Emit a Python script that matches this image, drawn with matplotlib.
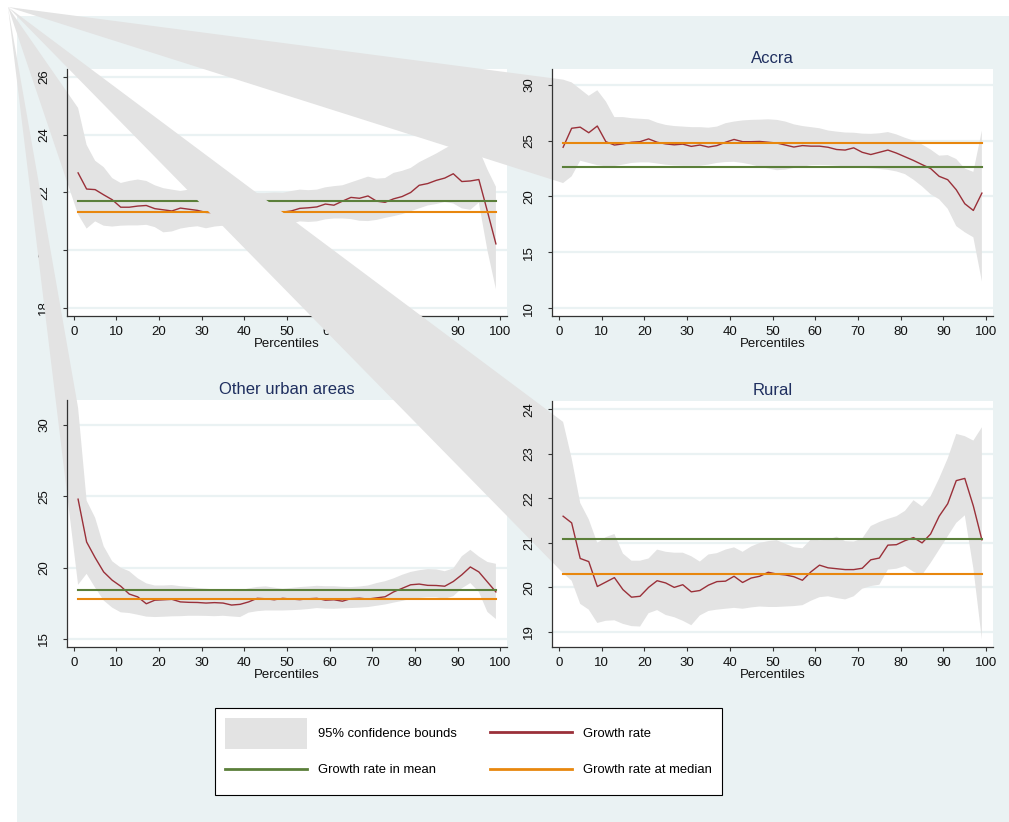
import numpy as np
import matplotlib
matplotlib.use('Agg')
import matplotlib.pyplot as plt
from matplotlib.patches import Polygon, Rectangle, Patch
from matplotlib.lines import Line2D
from matplotlib.legend_handler import HandlerLine2D

plt.rcParams['font.family'] = ['Liberation Sans', 'DejaVu Sans']

# percentiles 1, 3, ..., 99
pct = np.arange(1, 100, 2)

titles = ['', 'Accra', 'Other urban areas', 'Rural']

# growth incidence curves
ghana_growth = [22.68, 22.12, 22.10, 21.92, 21.75, 21.49, 21.49, 21.53, 21.55, 21.44,
                21.40, 21.36, 21.46, 21.42, 21.38, 21.31, 21.30, 21.30, 21.28, 21.30,
                21.31, 21.30, 21.31, 21.33, 21.32, 21.36, 21.45, 21.47, 21.50, 21.60,
                21.56, 21.70, 21.83, 21.80, 21.88, 21.70, 21.66, 21.78, 21.86, 22.00,
                22.25, 22.31, 22.42, 22.50, 22.65, 22.38, 22.40, 22.45, 21.35, 20.22]
ghana_upper = [24.93, 23.65, 23.10, 22.88, 22.50, 22.33, 22.40, 22.45, 22.40, 22.25,
               22.15, 22.10, 22.05, 22.10, 22.10, 22.25, 22.20, 22.10, 22.05, 22.00,
               21.98, 21.98, 21.98, 22.00, 21.99, 22.05, 22.10, 22.08, 22.10, 22.18,
               22.22, 22.25, 22.35, 22.45, 22.55, 22.48, 22.50, 22.68, 22.75, 22.85,
               23.05, 23.20, 23.35, 23.52, 23.68, 23.70, 23.65, 23.50, 22.80, 22.20]
ghana_lower = [21.24, 20.75, 21.00, 20.85, 20.82, 20.85, 20.86, 20.86, 20.88, 20.80,
               20.62, 20.65, 20.75, 20.80, 20.83, 20.76, 20.82, 20.85, 20.82, 20.80,
               20.80, 20.80, 20.82, 20.84, 20.86, 20.92, 21.00, 20.98, 21.00, 21.07,
               21.10, 21.10, 21.08, 21.02, 21.01, 21.05, 21.12, 21.18, 21.25, 21.35,
               21.45, 21.55, 21.60, 21.67, 21.62, 21.45, 21.40, 21.65, 20.00, 18.65]

accra_growth = [24.40, 26.10, 26.20, 25.70, 26.30, 24.90, 24.60, 24.70, 24.85, 24.90,
                25.15, 24.85, 24.70, 24.62, 24.68, 24.48, 24.60, 24.42, 24.55, 24.85,
                25.10, 24.90, 24.90, 24.92, 24.85, 24.78, 24.60, 24.42, 24.55, 24.50,
                24.50, 24.40, 24.20, 24.15, 24.35, 23.95, 23.75, 23.95, 24.15, 23.88,
                23.55, 23.22, 22.85, 22.50, 21.80, 21.50, 20.60, 19.35, 18.75, 20.30]
accra_upper = [30.45, 30.20, 29.60, 29.00, 29.50, 28.50, 27.10, 27.10, 27.00, 26.95,
               26.90, 26.60, 26.40, 26.30, 26.25, 26.20, 26.20, 26.15, 26.25, 26.55,
               26.70, 26.80, 26.85, 26.87, 26.90, 26.85, 26.70, 26.45, 26.30, 26.20,
               26.10, 25.90, 25.80, 25.72, 25.70, 25.62, 25.60, 25.65, 25.76, 25.55,
               25.25, 25.00, 24.65, 24.20, 23.65, 23.70, 23.35, 22.50, 22.20, 25.90]
accra_lower = [21.20, 21.80, 23.20, 23.00, 22.80, 22.70, 22.72, 22.85, 23.00, 23.05,
               23.05, 22.95, 22.84, 22.78, 22.75, 22.75, 22.75, 22.85, 23.00, 23.08,
               23.10, 23.00, 22.85, 22.65, 22.50, 22.35, 22.40, 22.55, 22.65, 22.80,
               22.82, 22.80, 22.75, 22.70, 22.62, 22.57, 22.52, 22.46, 22.38, 22.24,
               22.00, 21.50, 20.90, 20.20, 19.75, 18.90, 17.35, 16.80, 16.35, 12.40]

urban_growth = [24.80, 21.80, 20.70, 19.70, 19.12, 18.70, 18.15, 17.95, 17.47, 17.72,
                17.75, 17.78, 17.60, 17.57, 17.56, 17.52, 17.55, 17.52, 17.38, 17.43,
                17.60, 17.85, 17.82, 17.75, 17.85, 17.80, 17.76, 17.82, 17.85, 17.72,
                17.75, 17.65, 17.83, 17.86, 17.80, 17.88, 17.96, 18.30, 18.55, 18.80,
                18.85, 18.76, 18.75, 18.70, 19.03, 19.50, 20.05, 19.70, 19.00, 18.30]
urban_upper = [31.20, 24.70, 23.50, 21.50, 20.45, 20.00, 19.75, 19.25, 18.90, 18.75,
               18.75, 18.78, 18.70, 18.65, 18.58, 18.53, 18.47, 18.40, 18.35, 18.40,
               18.55, 18.65, 18.69, 18.60, 18.52, 18.58, 18.64, 18.68, 18.73, 18.70,
               18.70, 18.66, 18.64, 18.68, 18.75, 18.92, 19.05, 19.25, 19.50, 19.70,
               19.82, 19.90, 19.88, 19.75, 19.95, 20.80, 21.25, 20.78, 20.40, 20.27]
urban_lower = [18.80, 19.57, 18.60, 17.70, 17.20, 16.87, 16.82, 16.70, 16.57, 16.54,
               16.56, 16.59, 16.60, 16.63, 16.63, 16.62, 16.60, 16.63, 16.58, 16.54,
               16.85, 16.95, 17.00, 17.00, 17.00, 17.02, 17.05, 17.10, 17.17, 17.13,
               17.12, 17.15, 17.17, 17.20, 17.24, 17.33, 17.42, 17.55, 17.67, 17.80,
               17.88, 17.92, 17.92, 17.82, 18.00, 18.55, 18.92, 18.30, 16.90, 16.40]

rural_growth = [21.60, 21.45, 20.65, 20.58, 20.02, 20.12, 20.22, 19.95, 19.78, 19.80,
                20.00, 20.15, 20.10, 20.00, 20.06, 19.90, 19.93, 20.05, 20.13, 20.14,
                20.25, 20.11, 20.21, 20.25, 20.34, 20.30, 20.28, 20.24, 20.16, 20.35,
                20.50, 20.44, 20.42, 20.40, 20.40, 20.43, 20.62, 20.66, 20.95, 20.96,
                21.05, 21.12, 21.00, 21.20, 21.60, 21.88, 22.40, 22.45, 21.83, 21.07]
rural_upper = [23.72, 22.90, 21.90, 21.53, 21.00, 21.13, 21.20, 20.76, 20.60, 20.60,
               20.65, 20.85, 20.80, 20.78, 20.78, 20.70, 20.58, 20.74, 20.77, 20.85,
               20.90, 20.80, 20.92, 21.00, 21.04, 21.06, 20.98, 20.90, 20.88, 21.08,
               21.06, 21.07, 21.14, 21.04, 21.03, 21.10, 21.38, 21.47, 21.54, 21.60,
               21.72, 21.96, 21.82, 22.05, 22.45, 22.90, 23.45, 23.40, 23.30, 23.60]
rural_lower = [20.32, 20.15, 19.63, 19.50, 19.20, 19.25, 19.26, 19.18, 19.13, 19.12,
               19.42, 19.49, 19.38, 19.33, 19.25, 19.15, 19.37, 19.47, 19.50, 19.52,
               19.54, 19.52, 19.55, 19.57, 19.56, 19.56, 19.57, 19.58, 19.60, 19.70,
               19.78, 19.80, 19.76, 19.73, 19.80, 19.97, 20.03, 20.06, 20.40, 20.42,
               20.48, 20.35, 20.28, 20.55, 20.85, 21.15, 21.45, 21.62, 20.43, 18.83]

mean_rates = [21.72, 22.60, 18.45, 21.09]
median_rates = [21.33, 24.80, 17.78, 20.29]

growth = [ghana_growth, accra_growth, urban_growth, rural_growth]
upper = [ghana_upper, accra_upper, urban_upper, rural_upper]
lower = [ghana_lower, accra_lower, urban_lower, rural_lower]

ylims = [(17.72, 26.28), (9.31, 31.4), (14.44, 31.75), (18.66, 24.19)]
yticks = [np.arange(18, 27, 2), np.arange(10, 31, 5), np.arange(15, 31, 5), np.arange(19, 25, 1)]

bg = '#EAF2F3'
ci_col = '#E3E3E3'
red = '#9A3039'
green = '#5B7F3A'
orange = '#E8870E'
navy = '#1F2F5F'


class LowerLine(HandlerLine2D):
    # legend line handles sit a bit high next to the tall band patch
    def create_artists(self, legend, orig_handle, xdescent, ydescent, width, height,
                       fontsize, trans):
        arts = super().create_artists(legend, orig_handle, xdescent, ydescent, width,
                                      height, fontsize, trans)
        for a in arts:
            a.set_ydata(np.asarray(a.get_ydata()) - 3.5)
        return arts


W, H = 1009, 822
fig = plt.figure(figsize=(W / 100, H / 100), dpi=100, facecolor='white')
fig.patches.append(Rectangle((17 / W, 0), 1 - 17 / W, 1 - 16 / H, transform=fig.transFigure,
                             facecolor=bg, edgecolor='none', zorder=-5))

# plot regions in pixels: left, top, right, bottom
boxes = [(67, 69, 507, 316), (552, 69, 993, 316), (67, 400, 507, 647), (552, 401, 993, 647)]

# stata drew each band polygon starting from the page corner
corner = fig.transFigure.transform((8 / W, 1 - 7 / H))

for i in range(4):
    l, t, r, b = boxes[i]
    ax = fig.add_axes([l / W, 1 - b / H, (r - l) / W, (b - t) / H], zorder=i + 1)
    ax.set_facecolor('white')
    ax.set_xlim(-1.6, 101.6)
    ax.set_ylim(*ylims[i])
    ax.set_xticks(np.arange(0, 101, 10))
    ax.set_yticks(yticks[i])
    for yv in yticks[i]:
        ax.axhline(yv, color=bg, linewidth=1.6, zorder=0.5)
    for s in ['top', 'right']:
        ax.spines[s].set_visible(False)
    for s in ['left', 'bottom']:
        ax.spines[s].set_color('#333333')
        ax.spines[s].set_linewidth(0.9)
        ax.spines[s].set_zorder(6)
    ax.tick_params(axis='x', length=3, width=0.8, color='#333333', labelsize=9.5, pad=4,
                   labelcolor='#111111')
    ax.tick_params(axis='y', length=3, width=0.8, color='#333333', labelsize=9.5, pad=9,
                   labelcolor='#111111', labelrotation=90)
    for lab in ax.get_yticklabels():
        lab.set_verticalalignment('center')
    ax.xaxis.set_zorder(6)
    ax.yaxis.set_zorder(6)
    ax.set_xlabel('Percentiles', fontsize=9.5, labelpad=0, color='#111111')
    if titles[i]:
        ax.set_title(titles[i], fontsize=12, color=navy, pad=4)

    apex = ax.transData.inverted().transform(corner)
    verts = [tuple(apex)] + list(zip(pct, upper[i])) + list(zip(pct[::-1], lower[i][::-1]))
    ax.add_patch(Polygon(verts, closed=True, facecolor=ci_col, edgecolor='none',
                         clip_on=False, zorder=1))
    ax.plot(pct, growth[i], color=red, linewidth=1.0, zorder=3)
    ax.plot([pct[0], pct[-1]], [mean_rates[i]] * 2, color=green, linewidth=1.5, zorder=4)
    ax.plot([pct[0], pct[-1]], [median_rates[i]] * 2, color=orange, linewidth=1.5, zorder=5)

handles = [Patch(facecolor=ci_col, edgecolor='none', label='95% confidence bounds'),
           Line2D([], [], color=green, linewidth=2, label='Growth rate in mean'),
           Line2D([], [], color=red, linewidth=2, label='Growth rate'),
           Line2D([], [], color=orange, linewidth=2, label='Growth rate at median')]
leg = fig.legend(handles=handles, ncol=2, loc='center',
                 bbox_to_anchor=(468.5 / W, 1 - 751.5 / H), fontsize=9.4,
                 frameon=True, fancybox=False, edgecolor='black', framealpha=1,
                 handlelength=6.3, handleheight=3.3, handletextpad=0.85,
                 columnspacing=2.5, labelspacing=0.4, borderpad=0.75,
                 handler_map={Line2D: LowerLine()})
leg.get_frame().set_linewidth(0.8)
leg.set_zorder(10)

fig.savefig('out.png', dpi=100, facecolor='white')
